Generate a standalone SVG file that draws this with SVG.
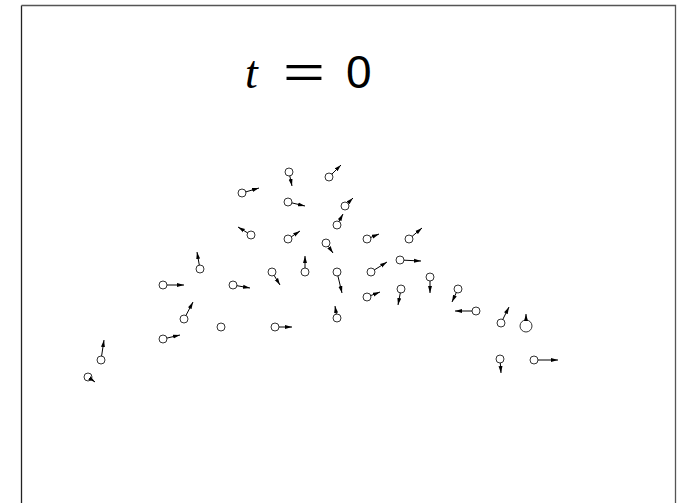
<svg xmlns="http://www.w3.org/2000/svg" width="677" height="503" viewBox="0 0 677 503">
<style>
.p{fill:none;stroke:#333;stroke-width:1}
.a{stroke:#000;stroke-width:1;marker-end:url(#ah)}
</style>
<defs>
<marker id="ah" markerUnits="userSpaceOnUse" markerWidth="8" markerHeight="5" refX="7" refY="2.5" orient="auto">
<path d="M0,0.5 L7,2.5 L0,4.5 z" fill="#000"/>
</marker>
</defs>
<rect width="677" height="503" fill="#fff"/>
<path d="M21.5,503 V5.5" fill="none" stroke="#222" stroke-width="1.3"/>
<path d="M21.5,5.5 H675.5 V503" fill="none" stroke="#555" stroke-width="1.3"/>
<g id="title">
<text x="245" y="88" font-family="Liberation Serif, serif" font-style="italic" font-size="46">t</text>
<text x="283" y="88" font-family="Liberation Sans, sans-serif" font-size="46" textLength="42" lengthAdjust="spacingAndGlyphs">=</text>
<text x="346" y="88" font-family="Liberation Sans, sans-serif" font-size="46">0</text>
</g>
<g id="p1"><circle class="p" cx="289" cy="172" r="4"/></g>
<g id="p2"><circle class="p" cx="329" cy="177" r="4"/></g>
<g id="p3"><circle class="p" cx="242" cy="193" r="4"/></g>
<g id="p4"><circle class="p" cx="288" cy="202" r="4"/></g>
<g id="p5"><circle class="p" cx="345" cy="206" r="4"/></g>
<g id="p6"><circle class="p" cx="251" cy="235" r="4"/></g>
<g id="p7"><circle class="p" cx="288" cy="239" r="4"/></g>
<g id="p8"><circle class="p" cx="337" cy="225" r="4"/></g>
<g id="p9"><circle class="p" cx="326" cy="243" r="4"/></g>
<g id="p10"><circle class="p" cx="367" cy="239" r="4"/></g>
<g id="p11"><circle class="p" cx="409" cy="239" r="4"/></g>
<g id="p12"><circle class="p" cx="400" cy="260" r="4"/></g>
<g id="p13"><circle class="p" cx="371" cy="272" r="4"/></g>
<g id="p14"><circle class="p" cx="430" cy="277" r="4"/></g>
<g id="p15"><circle class="p" cx="401" cy="289" r="4"/></g>
<g id="p16"><circle class="p" cx="367" cy="297" r="4"/></g>
<g id="p17"><circle class="p" cx="458" cy="289" r="4"/></g>
<g id="p18"><circle class="p" cx="200" cy="269" r="4"/></g>
<g id="p19"><circle class="p" cx="163" cy="285" r="4"/></g>
<g id="p20"><circle class="p" cx="233" cy="285" r="4"/></g>
<g id="p21"><circle class="p" cx="184" cy="319" r="4"/></g>
<g id="p22"><circle class="p" cx="221" cy="327" r="4"/></g>
<g id="p23"><circle class="p" cx="163" cy="339" r="4"/></g>
<g id="p24"><circle class="p" cx="272" cy="272" r="4"/></g>
<g id="p25"><circle class="p" cx="305" cy="272" r="4"/></g>
<g id="p26"><circle class="p" cx="337" cy="272" r="4"/></g>
<g id="p27"><circle class="p" cx="337" cy="318" r="4"/></g>
<g id="p28"><circle class="p" cx="275" cy="327" r="4"/></g>
<g id="p29"><circle class="p" cx="476" cy="311" r="4"/></g>
<g id="p30"><circle class="p" cx="501" cy="323" r="4"/></g>
<g id="p31"><circle class="p" cx="526" cy="326" r="6"/></g>
<g id="p32"><circle class="p" cx="500" cy="359" r="4"/></g>
<g id="p33"><circle class="p" cx="534" cy="360" r="4"/></g>
<g id="p34"><circle class="p" cx="101" cy="360" r="4"/></g>
<g id="p35"><circle class="p" cx="88" cy="377" r="4"/></g>
<g id="arrows">
<line class="a" x1="289.8" y1="175.9" x2="292" y2="186"/>
<line class="a" x1="331.8" y1="174.2" x2="341" y2="165"/>
<line class="a" x1="245.8" y1="191.9" x2="259" y2="188"/>
<line class="a" x1="291.9" y1="202.9" x2="305" y2="206"/>
<line class="a" x1="347.8" y1="203.2" x2="353" y2="198"/>
<line class="a" x1="247.6" y1="232.9" x2="238" y2="227"/>
<line class="a" x1="291.3" y1="236.8" x2="300" y2="231"/>
<line class="a" x1="338.9" y1="221.5" x2="343" y2="214"/>
<line class="a" x1="328.3" y1="246.3" x2="333" y2="253"/>
<line class="a" x1="370.7" y1="237.5" x2="379" y2="234"/>
<line class="a" x1="412.1" y1="236.4" x2="422" y2="228"/>
<line class="a" x1="404" y1="260.2" x2="421" y2="261"/>
<line class="a" x1="374.4" y1="269.9" x2="387" y2="262"/>
<line class="a" x1="430" y1="281" x2="430" y2="293"/>
<line class="a" x1="400.3" y1="292.9" x2="398" y2="305"/>
<line class="a" x1="370.7" y1="295.6" x2="380" y2="292"/>
<line class="a" x1="456.3" y1="292.6" x2="452" y2="302"/>
<line class="a" x1="199.3" y1="265.1" x2="197" y2="252"/>
<line class="a" x1="167" y1="285" x2="184" y2="285"/>
<line class="a" x1="236.9" y1="285.7" x2="250" y2="288"/>
<line class="a" x1="185.9" y1="315.5" x2="193" y2="302"/>
<line class="a" x1="166.9" y1="338.1" x2="180" y2="335"/>
<line class="a" x1="274.1" y1="275.4" x2="280" y2="285"/>
<line class="a" x1="305" y1="268" x2="305" y2="256"/>
<line class="a" x1="337.9" y1="275.9" x2="342" y2="293"/>
<line class="a" x1="336.3" y1="314.1" x2="335" y2="306"/>
<line class="a" x1="279" y1="327" x2="292" y2="327"/>
<line class="a" x1="472" y1="311" x2="455" y2="311"/>
<line class="a" x1="502.8" y1="319.4" x2="509" y2="307"/>
<line class="a" x1="526" y1="321" x2="526" y2="314"/>
<line class="a" x1="500.3" y1="363" x2="501" y2="373"/>
<line class="a" x1="538" y1="360" x2="558" y2="360"/>
<line class="a" x1="101.6" y1="356" x2="104" y2="340"/>
<line class="a" x1="91.3" y1="379.3" x2="95" y2="382"/>
</g>
</svg>
